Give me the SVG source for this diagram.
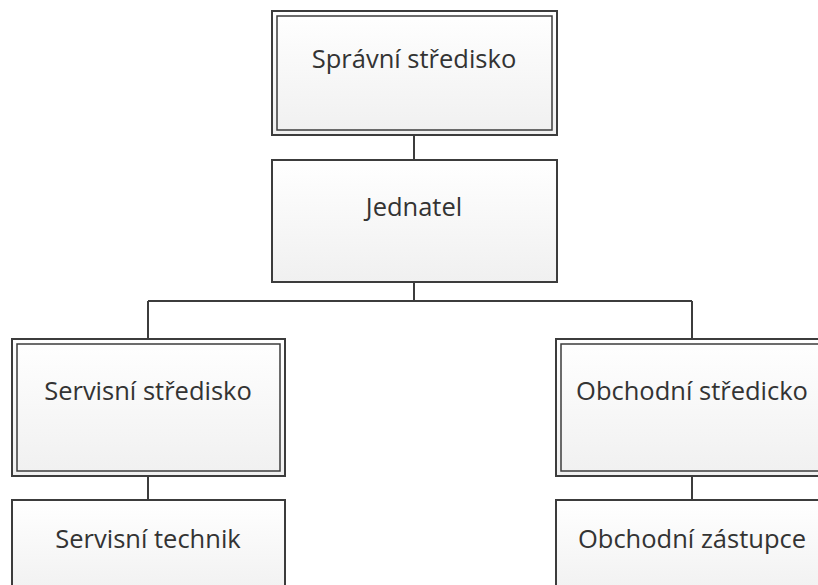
<svg xmlns="http://www.w3.org/2000/svg" width="818" height="585" viewBox="0 0 818 585">
<defs>
<linearGradient id="g" x1="0" y1="0" x2="0" y2="1">
<stop offset="0" stop-color="#ffffff"/>
<stop offset="1" stop-color="#f0f0f0"/>
</linearGradient>
<style>
.box{fill:url(#g);stroke:#3c3c3c;stroke-width:2}
.inner{fill:none;stroke:#3c3c3c;stroke-width:1.5}
.conn{fill:none;stroke:#3c3c3c;stroke-width:2}
text{font-family:"Open Sans","Liberation Sans",sans-serif;font-size:25.5px;fill:#333333;text-anchor:middle}
</style>
</defs>
<rect width="818" height="585" fill="#ffffff"/>
<g id="connectors">
<path class="conn" d="M414,135 V160"/>
<path class="conn" d="M414,282 V301 M148,301 H692 M148,301 V339 M692,301 V339"/>
<path class="conn" d="M148,476 V500"/>
<path class="conn" d="M692,476 V500"/>
</g>
<g id="spravni">
<rect class="box" x="272" y="11" width="285" height="124"/>
<rect class="inner" x="277" y="16" width="275" height="114"/>
<text x="414" y="68">Správní středisko</text>
</g>
<g id="jednatel">
<rect class="box" x="272" y="160" width="285" height="122"/>
<text x="414" y="216">Jednatel</text>
</g>
<g id="servisni-stredisko">
<rect class="box" x="12" y="339" width="273" height="137"/>
<rect class="inner" x="17" y="344" width="263" height="127"/>
<text x="148" y="400">Servisní středisko</text>
</g>
<g id="obchodni-stredicko">
<rect class="box" x="556" y="339" width="273" height="137"/>
<rect class="inner" x="561" y="344" width="263" height="127"/>
<text x="692" y="400">Obchodní středicko</text>
</g>
<g id="servisni-technik">
<rect class="box" x="12" y="500" width="273" height="100"/>
<text x="148" y="548">Servisní technik</text>
</g>
<g id="obchodni-zastupce">
<rect class="box" x="556" y="500" width="273" height="100"/>
<text x="692" y="548">Obchodní zástupce</text>
</g>
</svg>
